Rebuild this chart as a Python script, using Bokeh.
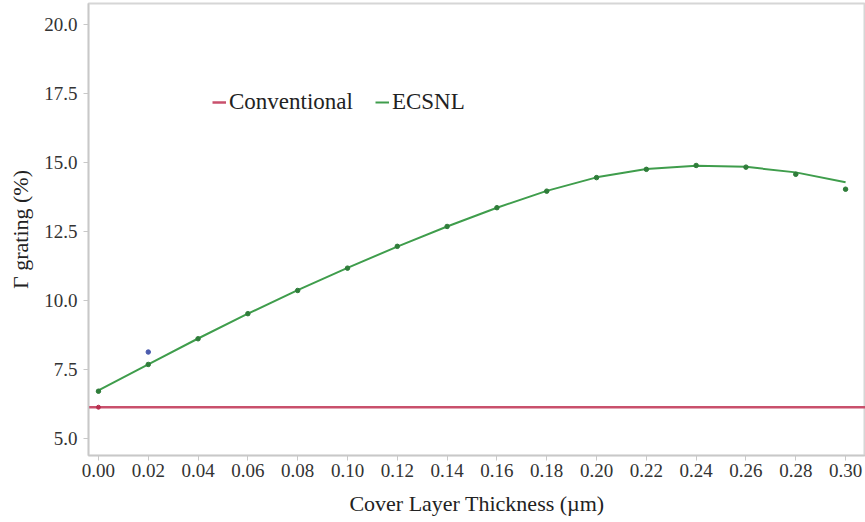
from bokeh.plotting import figure
from bokeh.models import Range1d, FixedTicker, Legend, LegendItem
from bokeh.embed import file_html
from bokeh.resources import INLINE

# Cover layer thickness (µm)
thickness = [0.00, 0.02, 0.04, 0.06, 0.08, 0.10, 0.12, 0.14, 0.16,
             0.18, 0.20, 0.22, 0.24, 0.26, 0.28, 0.30]
# ECSNL grating coupling (%) - simulated points
ecsnl_pts = [6.71, 7.68, 8.61, 9.52, 10.36, 11.17, 11.96, 12.68, 13.36,
             13.96, 14.45, 14.75, 14.89, 14.83, 14.57, 14.03]
# ECSNL fitted curve (%)
ecsnl_fit = [6.74, 7.68, 8.62, 9.52, 10.37, 11.18, 11.95, 12.68, 13.36,
             13.97, 14.46, 14.76, 14.88, 14.84, 14.64, 14.28]
# Conventional grating (%) - constant level
conv_x = [0.00]
conv_y = [6.13]
conv_level = 6.13
# extra marker at 0.02 µm
extra_x = [0.02]
extra_y = [8.13]

x_ticks = [0.00, 0.02, 0.04, 0.06, 0.08, 0.10, 0.12, 0.14, 0.16,
           0.18, 0.20, 0.22, 0.24, 0.26, 0.28, 0.30]
y_ticks = [5.0, 7.5, 10.0, 12.5, 15.0, 17.5, 20.0]

SERIF = "Liberation Serif"
GREEN = "#3f9d4c"
RED = "#c9506c"

xr = Range1d(-0.004, 0.308)
yr = Range1d(4.38, 20.76)

p = figure(width=865, height=522, output_backend="svg", toolbar_location=None,
           x_range=xr, y_range=yr,
           min_border_left=88, min_border_right=0, min_border_top=3,
           min_border_bottom=67)
p.background_fill_color = "white"
p.border_fill_color = "white"
p.outline_line_color = "#d6d6d6"
p.outline_line_width = 2
p.xgrid.visible = False
p.ygrid.visible = False

# conventional level drawn across the full x range
conv_line = p.line([xr.start, xr.end], [conv_level, conv_level],
                   line_color=RED, line_width=2.5)
p.scatter(conv_x, conv_y, size=4, color="#b8304f")

fit_line = p.line(thickness, ecsnl_fit, line_color=GREEN, line_width=2)
p.scatter(thickness, ecsnl_pts, size=4.5, color="#2f7d3a")
p.scatter(extra_x, extra_y, size=4.5, color="#4c5cae")

for ax in (p.xaxis[0], p.yaxis[0]):
    ax.axis_line_color = "#c8c8c8"
    ax.axis_line_width = 1.5
    ax.major_tick_line_color = "#c8c8c8"
    ax.major_tick_out = 5
    ax.major_tick_in = 0
    ax.minor_tick_line_color = None
    ax.major_label_text_font = SERIF
    ax.major_label_text_font_size = "19px"
    ax.major_label_text_color = "#333333"
    ax.axis_label_text_font = SERIF
    ax.axis_label_text_font_size = "22px"
    ax.axis_label_text_font_style = "normal"
    ax.axis_label_text_color = "#222222"

p.xaxis.ticker = FixedTicker(ticks=x_ticks)
p.xaxis.major_label_overrides = {t: f"{t:.2f}" for t in x_ticks}
p.xaxis.axis_label = "Cover Layer Thickness (µm)"
p.xaxis.major_label_standoff = 3
p.xaxis.axis_label_standoff = 11

p.yaxis.ticker = FixedTicker(ticks=y_ticks)
p.yaxis.major_label_overrides = {t: f"{t:.1f}" for t in y_ticks}
p.yaxis.axis_label = "Γ grating (%)"
p.yaxis.major_label_standoff = 6
p.yaxis.axis_label_standoff = 8

legend = Legend(items=[LegendItem(label="Conventional", renderers=[conv_line]),
                       LegendItem(label="ECSNL", renderers=[fit_line])],
                orientation="horizontal", location=(124, 340),
                label_text_font=SERIF, label_text_font_size="23px",
                label_text_color="#222222", glyph_width=14, glyph_height=20,
                label_standoff=3, spacing=22, padding=4,
                border_line_color=None, background_fill_alpha=0)
p.add_layout(legend)

open("out.html", "w").write(file_html(p, INLINE))
